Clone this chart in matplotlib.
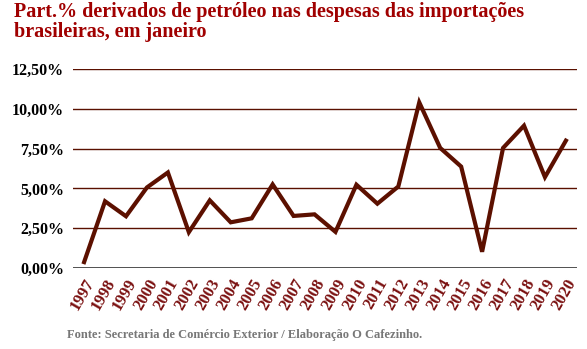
import matplotlib.pyplot as plt
from matplotlib.ticker import FuncFormatter

# dados
anos = [str(a) for a in range(1997, 2021)]
part = [0.37, 4.19, 3.25, 5.06, 6.0, 2.25, 4.25, 2.87, 3.12, 5.25, 3.27, 3.37,
        2.27, 5.23, 4.04, 5.12, 10.4, 7.54, 6.37, 1.02, 7.54, 8.94, 5.71, 8.0]
yticks = [0, 2.5, 5, 7.5, 10, 12.5]

plt.rcParams['font.family'] = ['Liberation Serif', 'DejaVu Serif']
plt.rcParams['font.weight'] = 'bold'

fig = plt.figure(figsize=[5.87, 3.49], dpi=100)
ax = fig.add_axes([73/587, 1-268/349, 504/587, 199/349])

x = list(range(len(anos)))
ax.plot(x, part, color='#5c1000', linewidth=3, solid_joinstyle='miter', zorder=3, clip_on=False)

ax.set_ylim(0, 12.5)
ax.set_xlim(-0.53, 23.53)
ax.set_yticks(yticks)
ax.yaxis.set_major_formatter(FuncFormatter(lambda v, p: ('%.2f' % v).replace('.', ',') + '%'))
for v in yticks[1:]:
    ax.axhline(v, color='#5a1000', linewidth=1, zorder=1)
ax.axhline(0, color='#333333', linewidth=1.2, zorder=2)

ax.set_xticks(x)
ax.set_xticklabels(anos, rotation=60, ha='right', rotation_mode='anchor',
                   color='#7a1010', fontsize=12, fontweight='bold')
for lbl in ax.get_yticklabels():
    lbl.set_fontsize(11.5)
    lbl.set_fontweight('bold')
ax.tick_params(axis='both', length=0)
ax.tick_params(axis='y', pad=6.5)
ax.tick_params(axis='x', pad=6)
for s in ax.spines.values():
    s.set_visible(False)

fig.text(14/587, 1-22/349, 'Part.% derivados de petróleo nas despesas das importações\nbrasileiras, em janeiro',
         color='#a00000', fontsize=14.5, fontweight='bold', va='center', linespacing=0.95)
fig.text(67/587, 1-335/349, 'Fonte: Secretaria de Comércio Exterior / Elaboração O Cafezinho.',
         color='#777777', fontsize=9, fontweight='bold', va='center')

fig.savefig('out.png', dpi=100)
